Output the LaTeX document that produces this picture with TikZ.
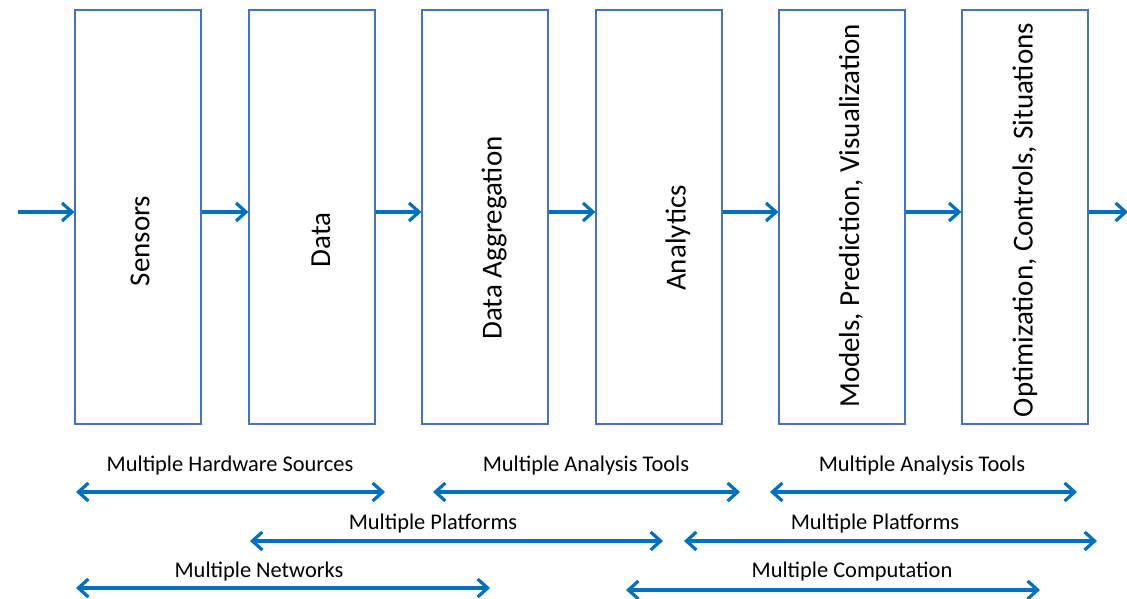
\documentclass[tikz,border=0pt]{standalone}
\usepackage{fontspec}
\setmainfont{Carlito}
\usetikzlibrary{arrows.meta}
\definecolor{flow}{HTML}{0070C0}
\definecolor{frame}{HTML}{4472C4}
\tikzset{
  stage/.style={draw=frame, line width=1.2pt, minimum width=126pt, minimum height=414pt, inner sep=0pt},
  stagetext/.style={rotate=90, font=\fontsize{29}{34}\selectfont, inner sep=0pt},
  barb/.tip={Straight Barb[length=10pt,width=18pt,line width=3.2pt]},
  flowarrow/.style={draw=flow, line width=3.2pt, -barb},
  spanarrow/.style={draw=flow, line width=3.2pt, barb-barb},
  spanlabel/.style={font=\fontsize{22.4}{26}\selectfont, inner sep=0pt}
}
\begin{document}
\begin{tikzpicture}[x=1pt,y=-1pt]
\useasboundingbox (0,0) rectangle (1127,599);
% processing stages
\node[stage] (s1) at (138,217) {};
\node[stage] (s2) at (312,217) {};
\node[stage] (s3) at (485,217) {};
\node[stage] (s4) at (659,217) {};
\node[stage] (s5) at (842,217) {};
\node[stage] (s6) at (1025,217) {};
\node[stagetext] at (140,241) {Sensors};
\node[stagetext] at (321,240) {Data};
\node[stagetext] at (494,238) {Data Aggregation};
\node[stagetext] at (678,238) {Analytics};
\node[stagetext] at (851,216) {Models, Prediction, Visualization};
\node[stagetext] at (1025,220) {Optimization, Controls, Situations};
% flow between stages
\coordinate (in) at (18,212);
\coordinate (out) at (1128,212);
\draw[flowarrow] (in) -- (s1.west |- in);
\draw[flowarrow] (s1.east |- in) -- (s2.west |- in);
\draw[flowarrow] (s2.east |- in) -- (s3.west |- in);
\draw[flowarrow] (s3.east |- in) -- (s4.west |- in);
\draw[flowarrow] (s4.east |- in) -- (s5.west |- in);
\draw[flowarrow] (s5.east |- in) -- (s6.west |- in);
\draw[flowarrow] (s6.east |- in) -- (out);
% spans
\coordinate (a1) at (76,492); \coordinate (b1) at (385,492);
\coordinate (a2) at (433,492); \coordinate (b2) at (740,492);
\coordinate (a3) at (770,492); \coordinate (b3) at (1077,492);
\coordinate (a4) at (250,541); \coordinate (b4) at (663,541);
\coordinate (a5) at (684,541); \coordinate (b5) at (1097,541);
\coordinate (a6) at (76,588); \coordinate (b6) at (490,588);
\coordinate (a7) at (626,590); \coordinate (b7) at (1040,590);
\draw[spanarrow] (a1) -- (b1);
\draw[spanarrow] (a2) -- (b2);
\draw[spanarrow] (a3) -- (b3);
\draw[spanarrow] (a4) -- (b4);
\draw[spanarrow] (a5) -- (b5);
\draw[spanarrow] (a6) -- (b6);
\draw[spanarrow] (a7) -- (b7);
\node[spanlabel] (l1) at (230,466) {Multiple Hardware Sources};
\node[spanlabel] (l2) at (586,466) {Multiple Analysis Tools};
\node[spanlabel] (l3) at (922,466) {Multiple Analysis Tools};
\node[spanlabel] (l4) at (433,524) {Multiple Platforms};
\node[spanlabel] (l5) at (875,524) {Multiple Platforms};
\node[spanlabel] (l6) at (259,572) {Multiple Networks};
\node[spanlabel] (l7) at (852,572) {Multiple Computation};
\end{tikzpicture}
\end{document}
